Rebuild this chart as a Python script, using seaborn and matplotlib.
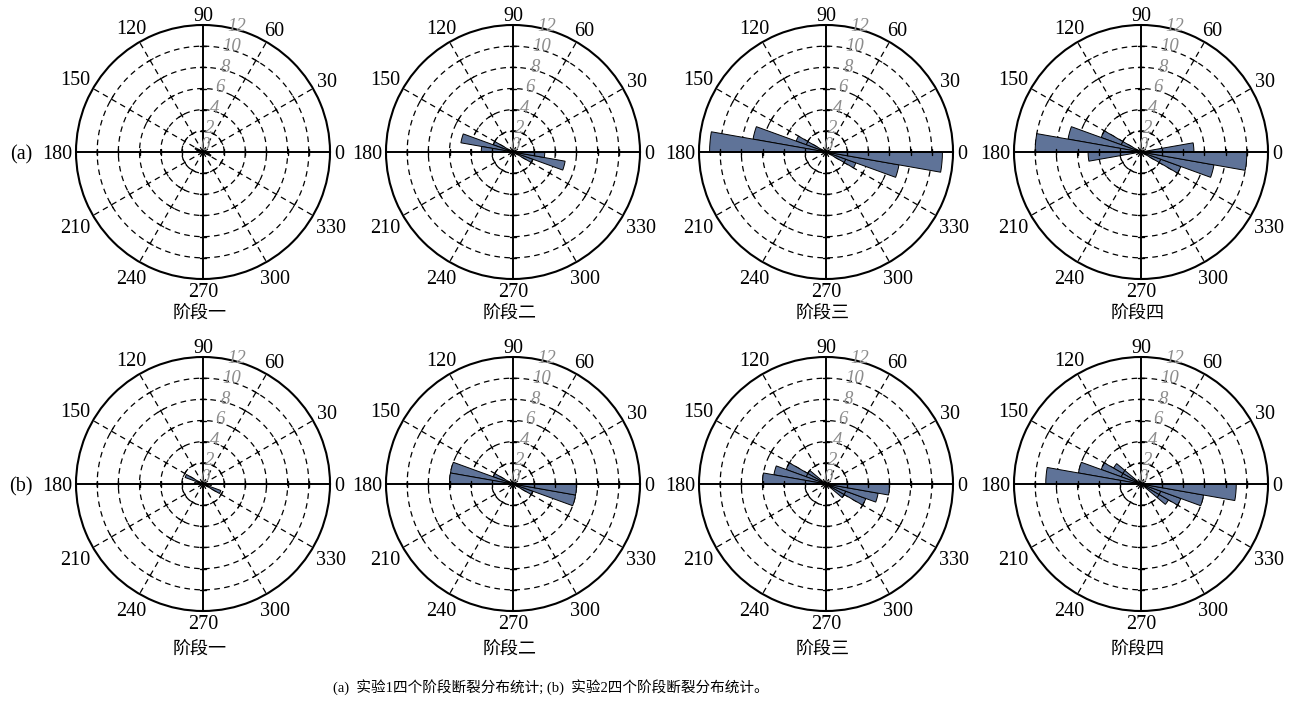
import numpy as np
import pandas as pd
import matplotlib
matplotlib.use("Agg")
import matplotlib.pyplot as plt
import seaborn as sns

# Fracture counts per 10-degree strike bin over 0-180 deg (bins 0-10, 10-20, ..., 170-180).
# Strikes are axial, so each rose is mirrored onto 180-360 deg.
exp1_stage1 = [0, 0, 0, 0, 0, 0, 0, 0, 0, 0, 0, 0, 0, 0, 0, 0.8, 0.6, 0]
exp1_stage2 = [0, 0, 0, 0, 0, 0, 0, 0, 0, 0, 0, 0, 0, 0, 0, 2, 5, 3]
exp1_stage3 = [0, 0, 0, 0, 0, 0, 0, 0, 0, 0, 0, 0, 0, 0, 0, 3, 7, 11]
exp1_stage4 = [5, 0, 0, 0, 0, 0, 0, 0, 0, 0, 0, 0, 0, 0, 0, 4, 7, 10]

exp2_stage1 = [0, 0, 0, 0, 0, 0, 0, 0, 0, 0, 0, 0, 0, 0, 0, 1.8, 0.5, 0.8]
exp2_stage2 = [0, 0, 0, 0, 0, 0, 0, 0, 0, 0, 0, 0, 0, 0, 0, 2, 6, 6]
exp2_stage3 = [0, 0, 0, 0, 0, 0, 0, 0, 0, 0, 0, 0, 0, 0, 2, 4, 5, 6]
exp2_stage4 = [0, 0, 0, 0, 0, 0, 0, 0, 0, 0, 0, 0, 0, 0, 3, 4, 6, 9]

stage_names = ["阶段一", "阶段二", "阶段三", "阶段四"]
row_tags = ["(a)", "(b)"]
angle_labels = [0, 30, 60, 90, 120, 150, 180, 210, 240, 270, 300, 330]
radial_labels = [0, 2, 4, 6, 8, 10, 12]
caption = "(a)  实验1四个阶段断裂分布统计; (b)  实验2四个阶段断裂分布统计。"

rows = [
    [exp1_stage1, exp1_stage2, exp1_stage3, exp1_stage4],
    [exp2_stage1, exp2_stage2, exp2_stage3, exp2_stage4],
]

# ---- layout (pixels on a 1303 x 702 canvas) ----
W, H = 1303, 702
R_PX = 127.0
col_cx = [203, 513, 826, 1141]
row_cy = [152, 484]
cap_y = [312, 648]
R_MAX = 12.0
PX_PER_UNIT = R_PX / R_MAX

BAR_COLOR = "#5f7398"
SERIF = "Liberation Serif"
CJK = "Noto Sans CJK SC"
ANGLE_FS = 14.5

sns.set_theme(style="white")
plt.rcParams["font.family"] = [SERIF, CJK]
plt.rcParams["text.color"] = "black"

fig = plt.figure(figsize=(W / 100, H / 100), dpi=100)


def angle_label_radius(text, deg):
    em = ANGLE_FS * 100 / 72
    w = 0.5 * em * len(text)
    h = 0.66 * em
    a = np.deg2rad(deg)
    d = R_PX + 4 + abs(np.cos(a)) * w / 2 + abs(np.sin(a)) * h / 2
    return d / PX_PER_UNIT


def draw_rose(ax, half_counts):
    theta = np.deg2rad(np.arange(5, 360, 10))
    counts = np.concatenate([half_counts, half_counts]).astype(float)
    df = pd.DataFrame({"theta": theta, "count": counts})
    sns.barplot(data=df, x="theta", y="count", native_scale=True, width=1.0,
                color=BAR_COLOR, saturation=1, edgecolor="black", linewidth=0.7,
                errorbar=None, orient="x", ax=ax, zorder=3)

    ax.set_theta_zero_location("E")
    ax.set_theta_direction(1)
    ax.set_ylim(0, R_MAX)
    ax.set_xticks([])
    ax.set_yticks([])
    ax.grid(False)
    ax.set_xlabel("")
    ax.set_ylabel("")
    ax.set_facecolor("none")
    ax.spines["polar"].set_color("black")
    ax.spines["polar"].set_linewidth(1.5)

    # dashed rings
    t = np.linspace(0, 2 * np.pi, 721)
    for r in radial_labels[1:-1]:
        ax.plot(t, np.full_like(t, r), color="black", lw=0.9,
                ls=(0, (4.5, 3.5)), zorder=1)
    # spokes: dashed every 30 deg, solid on the main axes
    for deg in angle_labels:
        a = np.deg2rad(deg)
        if deg % 90 == 0:
            ax.plot([a, a], [0, R_MAX], color="black", lw=1.4, zorder=4,
                    solid_capstyle="butt")
        else:
            ax.plot([a, a], [0, R_MAX], color="black", lw=0.9,
                    ls=(0, (4.5, 3.5)), zorder=1)
        # small cross ticks where each spoke meets a ring
        for r in radial_labels[1:-1]:
            half = (3.5 / PX_PER_UNIT) / r
            ax.plot([a - half, a + half], [r, r], color="black",
                    lw=1.0 if deg % 90 == 0 else 0.8, zorder=4)

    # angle labels
    for deg in angle_labels:
        s = str(deg)
        ax.text(np.deg2rad(deg), angle_label_radius(s, deg), s,
                family=SERIF, fontsize=ANGLE_FS, color="black", ha="center",
                va="center_baseline", clip_on=False)

    # radial labels
    for v in radial_labels:
        rr = v + 0.3 if v > 0 else 0.6
        ax.text(np.deg2rad(75), rr, str(v), family=SERIF, style="italic",
                fontsize=13.5, color="#8c8c8c", ha="center", va="center",
                clip_on=False, zorder=5)


for i, row in enumerate(rows):
    for j, counts in enumerate(row):
        cx, cy = col_cx[j], row_cy[i]
        rect = [(cx - R_PX) / W, 1 - (cy + R_PX) / H, 2 * R_PX / W, 2 * R_PX / H]
        ax = fig.add_axes(rect, projection="polar")
        draw_rose(ax, counts)
        fig.text((cx - 3) / W, 1 - (cap_y[i] + 2) / H, stage_names[j], family=CJK,
                 fontsize=13, color="black", ha="center", va="center")
    fig.text(21 / W, 1 - row_cy[i] / H, row_tags[i], family=SERIF,
             fontsize=ANGLE_FS, color="black", ha="center", va="center_baseline")

fig.text(551 / W, 1 - 687 / H, caption, family=[SERIF, CJK], fontsize=10.5,
         color="black", ha="center", va="center")

fig.savefig("out.png", dpi=100, facecolor="white")
